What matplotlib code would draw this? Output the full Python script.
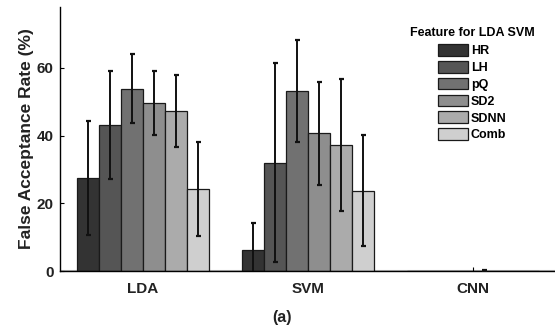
import matplotlib
matplotlib.use("Agg")
import matplotlib.pyplot as plt
import numpy as np
from matplotlib.patches import Patch

plt.rcParams['font.family'] = ['Liberation Sans', 'DejaVu Sans']
plt.rcParams['font.weight'] = 'bold'

classifiers = ["LDA", "SVM", "CNN"]
features = ["HR", "LH", "pQ", "SD2", "SDNN", "Comb"]
lda_mean = [27.4, 43.1, 53.8, 49.6, 47.3, 24.2]
lda_err = [16.8, 15.9, 10.2, 9.4, 10.6, 13.8]
svm_mean = [6.2, 32.0, 53.2, 40.7, 37.2, 23.7]
svm_err = [8.1, 29.4, 15.0, 15.2, 19.5, 16.4]
cnn_mean = [0.0, 0.0, 0.0, 0.1, 0.0, 0.0]
cnn_err = [0.0, 0.0, 0.0, 0.2, 0.0, 0.0]
colors = ["#333333", "#555555", "#717171", "#8e8e8e", "#ababab", "#cfcfcf"]

means = np.array([lda_mean, svm_mean, cnn_mean])
errs = np.array([lda_err, svm_err, cnn_err])

fig = plt.figure(figsize=(5.55, 3.33), dpi=100)
ax = fig.add_axes([0.109, 0.186, 0.891, 0.793])

x = np.arange(1, len(classifiers) + 1)
nb = len(features)
w = 0.8 / nb
for i in range(nb):
    pos = x - 0.4 + w * (i + 0.5)
    ax.bar(pos, means[:, i], width=w, color=colors[i], edgecolor="#1a1a1a",
           linewidth=0.9, zorder=2)
    keep = errs[:, i] > 0
    ax.errorbar(pos[keep], means[keep, i], yerr=errs[keep, i], fmt='none',
                ecolor="#111111", elinewidth=1.4, capsize=1.8, capthick=1.6,
                zorder=3)

ax.axhline(0, color="#bbbbbb", lw=1.5, zorder=1)
ax.set_xlim(0.5, 3.5)
ax.set_ylim(0, 78)
ax.set_yticks([0, 20, 40, 60])
ax.set_xticks(x)
ax.set_xticklabels(classifiers)
ax.tick_params(direction='in', length=3, width=0.8, labelsize=11, pad=8)
ax.tick_params(axis='y', pad=5)
for lab in ax.get_xticklabels() + ax.get_yticklabels():
    lab.set_fontweight('bold')
    lab.set_color('#222222')
ax.spines['top'].set_visible(False)
ax.spines['right'].set_visible(False)
ax.spines['left'].set_linewidth(1.0)
ax.spines['bottom'].set_linewidth(1.0)
ax.set_ylabel("False Acceptance Rate (%)", fontsize=12.5, fontweight='bold',
              color='#222222', labelpad=2)

handles = [Patch(facecolor=c, edgecolor="#1a1a1a", linewidth=0.9) for c in colors]
leg = fig.legend(handles, features, loc='upper left', bbox_to_anchor=(0.739, 0.92),
                 frameon=False, title="Feature for LDA SVM",
                 prop={'size': 9, 'weight': 'bold'},
                 title_fontproperties={'size': 9, 'weight': 'bold'},
                 handlelength=2.4, handleheight=1.05, labelspacing=0.3,
                 handletextpad=0.2, borderaxespad=0, borderpad=0)
leg._legend_box.sep = 4

fig.text(0.508, 0.048, "(a)", ha='center', va='center', fontsize=11.5,
         fontweight='bold', color='#222222')

fig.savefig("out.png", dpi=100)
